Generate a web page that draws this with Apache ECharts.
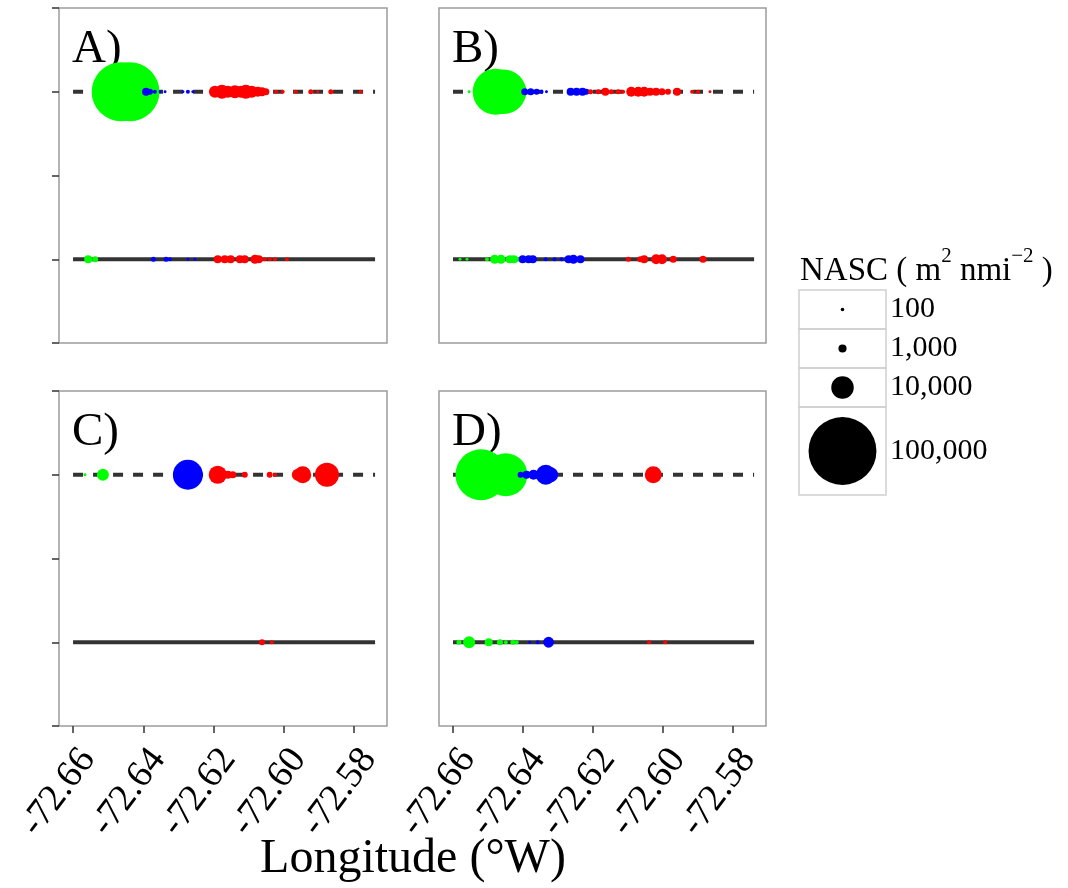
<!DOCTYPE html>
<html>
<head>
<meta charset="utf-8">
<script src="https://cdn.jsdelivr.net/npm/echarts@6/dist/echarts.min.js"></script>
<style>
  html, body { margin: 0; padding: 0; background: #ffffff; }
  #chart { width: 1068px; height: 888px; }
</style>
</head>
<body>
<div id="chart"></div>
<script>
// Acoustic backscatter (NASC) along two transects per survey, by longitude.
// Each point: [longitude, transect row (1 = solid line, 3 = dashed line), NASC]

const LON_TICKS = [-72.66, -72.64, -72.62, -72.60, -72.58];
const PANEL_LABELS = ['A)', 'B)', 'C)', 'D)'];
const TRANSECT_START = -72.66;
const TRANSECT_END = -72.574;
const NASC_LEGEND = [100, 1000, 10000, 100000];
const NASC_LEGEND_LABELS = ['100', '1,000', '10,000', '100,000'];

const A_green = [
  [-72.6463, 3, 75000], [-72.6438, 3, 75000],
  [-72.6557, 1, 950], [-72.6537, 1, 460]
];
const A_blue = [
  [-72.6392, 3, 950], [-72.6381, 3, 460], [-72.6367, 3, 140], [-72.6352, 3, 50],
  [-72.6338, 3, 50], [-72.6287, 3, 50], [-72.6273, 3, 140], [-72.6259, 3, 50],
  [-72.6371, 1, 280], [-72.6335, 1, 280], [-72.6324, 1, 140], [-72.6273, 1, 50],
  [-72.6253, 1, 50]
];
const A_red = [
  [-72.6196, 3, 2500], [-72.6176, 3, 3500], [-72.6159, 3, 2500], [-72.6139, 3, 3000],
  [-72.6122, 3, 2500], [-72.6108, 3, 3500], [-72.6091, 3, 2500], [-72.6074, 3, 1600],
  [-72.6062, 3, 1300], [-72.6051, 3, 700], [-72.6022, 3, 140], [-72.6003, 3, 140],
  [-72.5966, 3, 140], [-72.5923, 3, 280], [-72.5903, 3, 50], [-72.5866, 3, 280],
  [-72.5781, 3, 140],
  [-72.6188, 1, 950], [-72.6168, 1, 950], [-72.6151, 1, 950], [-72.6125, 1, 950],
  [-72.6111, 1, 950], [-72.6082, 1, 1300], [-72.6071, 1, 950], [-72.6054, 1, 140],
  [-72.6040, 1, 140], [-72.6025, 1, 140], [-72.5991, 1, 140]
];

const B_green = [
  [-72.6554, 3, 50], [-72.6478, 3, 45000], [-72.6455, 3, 42000], [-72.6435, 3, 20000],
  [-72.6580, 1, 50], [-72.6560, 1, 50], [-72.6503, 1, 140], [-72.6481, 1, 1300],
  [-72.6463, 1, 1300], [-72.6438, 1, 950], [-72.6426, 1, 950], [-72.6418, 1, 280]
];
const B_blue = [
  [-72.6395, 3, 690], [-72.6378, 3, 690], [-72.6361, 3, 460], [-72.6347, 3, 140],
  [-72.6333, 3, 50], [-72.6264, 3, 950], [-72.6247, 3, 950], [-72.6230, 3, 950],
  [-72.6219, 3, 460],
  [-72.6401, 1, 950], [-72.6384, 1, 950], [-72.6372, 1, 950], [-72.6335, 1, 140],
  [-72.6310, 1, 140], [-72.6290, 1, 140], [-72.6270, 1, 950], [-72.6256, 1, 1300],
  [-72.6236, 1, 950]
];
const B_red = [
  [-72.6207, 3, 280], [-72.6185, 3, 280], [-72.6165, 3, 950], [-72.6148, 3, 280],
  [-72.6128, 3, 280], [-72.6114, 3, 140], [-72.6091, 3, 1600], [-72.6071, 3, 1600],
  [-72.6054, 3, 1600], [-72.6037, 3, 950], [-72.6020, 3, 950], [-72.6003, 3, 690],
  [-72.5986, 3, 460], [-72.5960, 3, 950], [-72.5917, 3, 140], [-72.5900, 3, 140],
  [-72.5866, 3, 50],
  [-72.6099, 1, 280], [-72.6065, 1, 460], [-72.6054, 1, 950], [-72.6020, 1, 1600],
  [-72.6003, 1, 1600], [-72.5971, 1, 690], [-72.5886, 1, 690]
];

const C_green = [
  [-72.6566, 3, 50], [-72.6515, 3, 2500]
];
const C_blue = [
  [-72.6273, 3, 18400]
];
const C_red = [
  [-72.6188, 3, 6200], [-72.6159, 3, 950], [-72.6145, 3, 690], [-72.6111, 3, 460],
  [-72.6040, 3, 460], [-72.6025, 3, 140], [-72.5960, 3, 2500], [-72.5946, 3, 5450],
  [-72.5877, 3, 11500],
  [-72.6062, 1, 460], [-72.6034, 1, 140]
];

const D_green = [
  [-72.6520, 3, 55600], [-72.6449, 3, 39000],
  [-72.6583, 1, 280], [-72.6554, 1, 2500], [-72.6498, 1, 950], [-72.6466, 1, 460],
  [-72.6449, 1, 140], [-72.6429, 1, 280], [-72.6418, 1, 140]
];
const D_blue = [
  [-72.6407, 3, 460], [-72.6390, 3, 950], [-72.6370, 3, 1600], [-72.6335, 3, 7760],
  [-72.6321, 3, 4100],
  [-72.6381, 1, 50], [-72.6358, 1, 140], [-72.6327, 1, 2000]
];
const D_red = [
  [-72.6028, 3, 5450],
  [-72.6040, 1, 140], [-72.5994, 1, 140]
];

const PANEL_POINTS = [
  { green: A_green, blue: A_blue, red: A_red },
  { green: B_green, blue: B_blue, red: B_red },
  { green: C_green, blue: C_blue, red: C_red },
  { green: D_green, blue: D_blue, red: D_red }
];

const SERIF = '"Liberation Serif", "Times New Roman", serif';
const COLORS = { green: '#00ff00', blue: '#0000ff', red: '#ff0000' };
const X_MIN = -72.664, X_MAX = -72.5706;

// point diameter grows with the square root of NASC (area-proportional)
function nascSize(v) { return 0.21 * Math.sqrt(v) + 1.5; }

const panelBoxes = [
  { left: 59,  top: 8,   width: 328, height: 335 },
  { left: 439, top: 8,   width: 327, height: 335 },
  { left: 59,  top: 391, width: 328, height: 335 },
  { left: 439, top: 391, width: 327, height: 335 }
];
const legendBoxes = [
  { left: 799, top: 290, width: 87, height: 39 },
  { left: 799, top: 329, width: 87, height: 39 },
  { left: 799, top: 368, width: 87, height: 39 },
  { left: 799, top: 407, width: 87, height: 88 }
];

const grid = [], xAxis = [], yAxis = [], series = [];

panelBoxes.forEach((box, i) => {
  const bottomRow = i >= 2;
  const leftCol = i % 2 === 0;
  grid.push(Object.assign({ show: true, borderColor: '#9c9c9c', borderWidth: 1.5, backgroundColor: '#fff' }, box));
  xAxis.push({
    type: 'value', gridIndex: i, min: X_MIN, max: X_MAX,
    axisLine: { show: false }, splitLine: { show: false },
    axisTick: { show: bottomRow, customValues: LON_TICKS, length: 7, lineStyle: { color: '#333', width: 1.5 } },
    axisLabel: {
      show: bottomRow, customValues: LON_TICKS, rotate: 53, margin: 2,
      verticalAlign: 'top', padding: [8, 11, 0, 0],
      fontSize: 38, fontFamily: SERIF, color: '#000',
      formatter: v => v.toFixed(2)
    }
  });
  yAxis.push({
    type: 'value', gridIndex: i, min: 0, max: 4, interval: 1,
    axisLine: { show: false }, splitLine: { show: false }, axisLabel: { show: false },
    axisTick: { show: leftCol, length: 7, lineStyle: { color: '#333', width: 1.5 } }
  });
  // transect tracks
  series.push({
    type: 'line', xAxisIndex: i, yAxisIndex: i, symbol: 'none', silent: true, z: 1,
    data: [[TRANSECT_START, 3], [TRANSECT_END, 3]],
    lineStyle: { color: '#333333', width: 4, type: [10, 10], cap: 'butt' }
  });
  series.push({
    type: 'line', xAxisIndex: i, yAxisIndex: i, symbol: 'none', silent: true, z: 1,
    data: [[TRANSECT_START, 1], [TRANSECT_END, 1]],
    lineStyle: { color: '#333333', width: 4, type: 'solid', cap: 'butt' }
  });
  ['green', 'blue', 'red'].forEach(c => {
    series.push({
      type: 'scatter', xAxisIndex: i, yAxisIndex: i, silent: true, z: 2,
      symbol: 'circle',
      symbolSize: v => nascSize(v[2]),
      itemStyle: { color: COLORS[c], opacity: 1 },
      data: PANEL_POINTS[i][c]
    });
  });
});

// size key: one boxed cell per reference NASC value
legendBoxes.forEach((box, j) => {
  const gi = panelBoxes.length + j;
  grid.push(Object.assign({ show: true, borderColor: '#cfcfcf', borderWidth: 1.5 }, box));
  xAxis.push({ type: 'category', gridIndex: gi, data: ['k'], show: false });
  yAxis.push({
    type: 'category', gridIndex: gi, data: [NASC_LEGEND_LABELS[j]], position: 'right',
    axisLine: { show: false }, axisTick: { show: false }, splitLine: { show: false },
    axisLabel: { margin: 4, fontSize: 30, fontFamily: SERIF, color: '#000' }
  });
  series.push({
    type: 'scatter', xAxisIndex: gi, yAxisIndex: gi, silent: true,
    symbol: 'circle', symbolSize: v => nascSize(v[2]),
    itemStyle: { color: '#000', opacity: 1 },
    data: [[0, 0, NASC_LEGEND[j]]]
  });
});

const graphic = PANEL_LABELS.map((t, i) => ({
  type: 'text', x: panelBoxes[i].left + 13, y: panelBoxes[i].top + 18,
  style: { text: t, fontSize: 47, fontFamily: SERIF, fill: '#000' }
}));
graphic.push({
  type: 'text', x: 413, y: 859,
  style: { text: 'Longitude (°W)', fontSize: 48, fontFamily: SERIF, fill: '#000', align: 'center', verticalAlign: 'middle' }
});
graphic.push({
  type: 'text', x: 800, y: 246,
  style: {
    text: '{t|NASC ( m}{s|2}{t| nmi}{s|−2}{t| )}',
    rich: {
      t: { fontSize: 33, fontFamily: SERIF, fill: '#000', verticalAlign: 'bottom', lineHeight: 42 },
      s: { fontSize: 21, fontFamily: SERIF, fill: '#000', verticalAlign: 'top', lineHeight: 42 }
    }
  }
});

const chart = echarts.init(document.getElementById('chart'), null, { renderer: 'canvas' });
chart.setOption({
  animation: false,
  backgroundColor: '#ffffff',
  grid, xAxis, yAxis, series, graphic
});
</script>
</body>
</html>
